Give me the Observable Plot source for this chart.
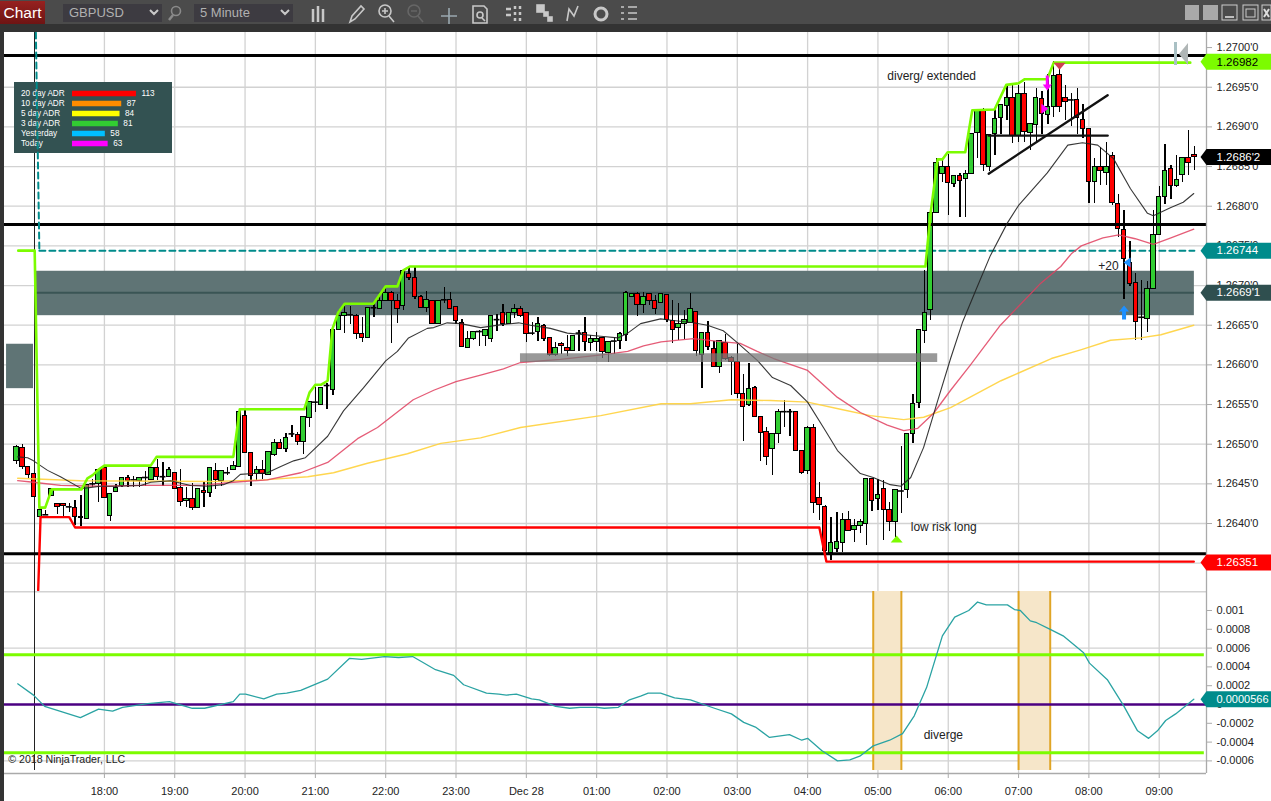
<!DOCTYPE html>
<html><head><meta charset="utf-8">
<script src="https://cdn.jsdelivr.net/npm/d3@7"></script>
<script src="https://cdn.jsdelivr.net/npm/@observablehq/plot@0.6"></script>
<style>
html,body{margin:0;padding:0;width:1271px;height:801px;overflow:hidden;background:#333;font-family:"Liberation Sans",Arial,sans-serif}
#page{position:relative;width:1271px;height:801px;background:#333}
#page>svg{position:absolute}
#bar{position:absolute;left:0;top:0;width:1271px;height:24px;background:#4b4b4b}
#chart{position:absolute;left:0;top:1px;width:45px;height:23px;background:linear-gradient(#96211f,#6e1414);color:#fff;font-size:15.5px;line-height:23px;text-align:center}
.dd{position:absolute;top:4px;height:18px;width:99px;background:#3d3b41;color:#b0b0b0;font-size:13px;line-height:18px;text-indent:6px}
</style></head><body><div id="page">
<div id="bar"><div id="chart">Chart</div><div class="dd" style="left:63px">GBPUSD</div><div class="dd" style="left:194px">5 Minute</div></div>
<svg id="icons" width="1271" height="24" style="left:0;top:0" fill="none" stroke="#c8c8c8" stroke-width="1.6">
<path d="M150 10l4 4 4-4M281 10l4 4 4-4" stroke-width="2"/>
<circle cx="176" cy="11" r="4.5" stroke="#8a8a8a"/><path d="M173 15l-4 5" stroke="#8a8a8a" stroke-width="2.5"/>
<path d="M313 9v13M318 6v16M323 9v13" stroke-width="2.5"/>
<path d="M350 22l2-6 9-10 3 3-9 10z"/>
<circle cx="385" cy="11" r="6"/><path d="M389 16l5 6M382 11h6M385 8v6"/>
<circle cx="414" cy="11" r="6" stroke="#666"/><path d="M418 16l5 6M411 11h6" stroke="#666"/>
<path d="M449 8v18M441 16h16" stroke="#9aa8b0"/>
<path d="M473 6h11l3 3v14h-14z"/><circle cx="480" cy="15" r="3"/><path d="M482 18l3 3"/>
<path d="M506 9h5M506 15h5M515 6v3M520 6v3M515 12v3M520 12v3M515 18v3M520 18v3" stroke-width="2.5"/>
<rect x="537" y="5" width="7" height="7" fill="#c8c8c8"/><rect x="544" y="12" width="4" height="4" fill="#c8c8c8"/><rect x="548" y="17" width="4" height="4" fill="#c8c8c8"/>
<path d="M567 21l2-12 5 7 4-10"/>
<circle cx="601" cy="14" r="6" stroke-width="3"/>
<path d="M621 7h3M621 13h3M621 19h3M628 7h9M628 13h9M628 19h9"/>
<rect x="1185" y="5" width="14" height="15" fill="#a9a9a9" stroke="none"/><rect x="1203" y="5" width="15" height="15" fill="#a9a9a9" stroke="none"/>
<rect x="1222" y="5" width="15" height="15" stroke="#ccc" stroke-width="1"/><path d="M1225 17h9" stroke="#ddd"/>
<rect x="1243" y="5" width="15" height="15" stroke="#ccc" stroke-width="1"/><rect x="1246" y="9" width="9" height="8" stroke="#ccc" stroke-width="1"/>
<rect x="1262" y="5" width="9" height="15" stroke="#ccc" stroke-width="1"/><path d="M1264 9l5 8M1269 9l-5 8" stroke="#ddd" stroke-width="2"/>
</svg>
<script>
// Price values are pips above 1.2600
const BASE = 1.26;
const barOpen = [47.9,49.5,47.1,46.2,40.8,41.1,43.5,42.4,42.5,42.1,42,40.8,40.6,45,45,47,40.9,44,44.7,45.7,45.5,45.4,45.8,45.5,47,45.9,45.9,46.4,44.5,42.8,43.1,42,44.1,43.9,46.6,45.4,46.4,46.7,47.1,53.5,48.9,46.2,46.8,46.1,48.7,50.2,49.4,51.3,51.1,50.3,53.3,55.3,55,57.4,56.8,64.4,66.1,66.3,66.2,63.9,63.4,67.2,67.1,68,69,68,67.4,71.4,70.9,68.6,67.2,68,65.2,68.2,68.2,67.3,65.3,62.1,63.2,64.2,63.7,63.2,65.7,66.5,65.2,66.5,67,66.6,64,64.2,64.9,63.4,61.3,62.6,62.1,61.7,64,64,62.8,62.9,63.4,61.5,63,63,63.8,68.5,68.9,67.6,68.9,68,67.8,68.8,65.5,64.6,65.1,65.3,66.7,61.3,64,62,59.7,62.7,60.9,60.3,56.3,55,57.1,53.4,51.5,49.4,51.3,54.1,54.1,54.1,49.2,46.6,52.1,43.2,42.1,36.3,36.8,37.6,40.4,39.2,39.7,39.9,45.6,43.1,44.3,41.7,40.2,44.1,44.2,51.3,55.2,64.3,66.9,79.1,84,84.9,82.8,83.8,83.4,84,89.2,92.1,85,89.1,91.1,92.6,93.7,88.9,94.2,89.2,90.3,93.5,91.5,92.5,96.6,93.7,93.4,93.4,90.9,89.7,83,84.9,84.2,86.3,80.3,77,72.9,70.3,66,65.8,69.6,76.4,81.2,84.7,82.5,83.9,86.1,86.5];
const barHigh = [49.8,49.9,47.1,46.2,41.7,41.7,44.3,42.5,42.5,42.5,42.9,43.5,44.9,45.6,46.8,47,43.7,44.9,45.7,46.1,45.9,45.7,46.6,47,48.1,47.7,47,46.4,46.8,44.5,45,44.3,45.2,47,47.6,46.6,47.1,47.8,54.1,54.2,48.9,47.2,48,49,50.6,50.6,51.3,52.4,51.5,53.4,55.3,57.1,57.1,57.6,64.4,66.8,67.4,67.4,66.4,66,67.2,67.6,68.9,69.7,69.3,68.9,71.8,72.4,72.3,68.7,69.3,68,68,69.7,69.1,67.3,65.7,64.2,64.2,64.3,64.4,66.2,66.4,67.6,66.6,67.6,67.3,66.6,65.3,66,65.1,63.4,62.8,62.8,63.7,63.7,64.3,66,63.7,64.1,63.5,62.9,63.4,64.1,69.3,68.9,69.1,69.1,68.9,68.7,68.9,68.8,68.1,67.7,66.8,69,66.7,64,65.5,63,63,63.8,61.1,62.6,58.8,60.2,57.3,53.4,52.1,51.3,54.4,55.5,54.4,54.1,49.2,52.2,52.5,45.2,42.3,40.8,41.4,41.2,41.5,40.5,40.5,45.6,45.6,45.5,45.4,42.6,44.2,49.7,51.3,56.3,64.4,71.9,79.1,86,85.9,86.5,83.9,84.1,84.5,89.1,92.1,92.3,89.1,92.3,92.8,95.2,95.2,95.2,95.6,90.4,94.9,94.4,96.6,98.2,97.7,95.2,94.2,94.8,92.8,89.7,86,87.4,88,86.8,81.5,79.5,75.5,71.5,70.6,70.5,79.5,82.5,87.8,85.1,86.4,86.1,89.6,87.5];
const barLow = [47.5,46.8,45.7,43.4,40.8,41.1,43.5,41.1,40.8,41.4,39.7,39.6,40.6,44.5,42.6,43.2,40.3,44,44.6,44.6,44.6,44.6,44.7,45.5,45.4,44.7,45.9,44.3,42.1,42,41.6,42,42,43.3,44.3,44.7,46,46.7,47.1,48.9,44.7,45.4,45.6,46.1,48.5,49.4,48.9,50.9,49.8,48.7,52.1,54,55,54.4,56.1,64.3,64,65.1,63.2,62.8,63.4,66,67,68,62.7,65.2,66.8,70.6,68.3,67.1,66.6,65.1,65.2,67.7,67,65.1,62.2,62.1,63.1,62.3,62.3,62.8,64.2,64.9,65.1,65.8,66,62.8,63.7,63,63,61.1,61.1,61.3,61,61.7,61.7,61.7,61.7,61.7,60.8,60.3,61.3,62,63,68.5,66.1,66.5,67.5,66.4,67.8,65.3,62.7,63.1,63.2,65.3,61.1,57,61.8,59.7,58.9,60.5,56.1,55.8,50.4,54.8,53.4,47.8,47.3,46,50.1,52.1,51,49.2,46.2,46.2,41.3,40.4,36,35.4,36.3,36.3,39,37.6,38.7,37.2,41.5,41.6,37.8,39,38.3,41.2,43.1,50.1,54.5,62.7,65.6,79.1,83,78.8,82.4,78.6,78.6,84,86,84.4,84.4,86.4,89.1,90.8,87.9,88,88,87,87.9,89.1,90.3,91.2,91.8,90.8,90.1,89.1,88.6,80.3,80.3,82.6,82.6,80.1,76.1,68.3,69.9,63.1,63.1,64.1,69.6,76.4,80.2,80.9,82.3,83,83.9,84.5];
const barClose = [49.6,47.1,46.1,43.4,41.7,41.1,44.3,42.1,42.2,42.1,40.8,40.7,44.9,45,46.8,43.2,43.7,44.5,45.7,45.4,45.5,45.7,45.8,47,45.9,45.9,46.7,44.3,42.7,43.1,42,44.3,43.8,47,45.5,46.6,46.4,47.2,54.1,48.9,46,46.8,46.2,49,50.2,49.4,50.8,51.3,50.3,53.4,55.3,55.3,57.1,57.4,64.4,66.2,66.5,66.3,63.9,63.4,67.2,67.2,68,69,68.1,67.1,71.8,71,68.5,67.2,68.2,65.1,68,68.2,67.1,65.5,62.3,63.2,64.1,64.2,64.4,66.2,65.7,65.2,66.6,67,66.1,63.9,64,65.1,63.2,61.3,62.1,62.4,61.7,63.7,64,62.9,63.2,63.2,61.6,62.9,63,63.9,69,68.9,67.6,68.6,68.1,67.1,68.9,65.6,64.4,65.1,65.7,67,61.8,64,62.3,59.7,63,60.8,60.3,56.3,54.7,56.9,53.4,51.4,48.4,51.3,54.1,54.1,54.1,49.2,46.4,52.1,42.6,42.3,36.5,37.5,37.7,40.5,39.1,39.7,40.2,45.6,42.9,43.6,41.7,40.2,44.2,44.1,51.3,55.1,64.4,66.6,79.1,85.5,84.9,82.9,83.8,83.2,84,89.1,92.1,85.2,89,91,92.8,93.7,88.9,94.2,89.3,90.4,93.7,91.6,92.5,96.4,92.5,93.2,93.4,91.1,89.7,83,85,84.4,85,80.4,77.1,73.4,70.2,65.4,66,69.6,76.4,81.1,84.4,82.5,83.3,86.1,85.5,86.2];

const smaBar = [0.2,1.9,2.9,5.3,7.5,11.1,14.3,16.6,21.2,22.9,26.3,29.7,32.6,35.3,37,38.2,40.4,42.8,45.1,47.3,49.3,51.4,53.1,55.8,59.2,63,65,66.9,70.1,71.2,73.5,75.8,79.2,83.1,85.7,87.7,91.1,94,99.7,102.6,104.3,106.5,109.9,112.1,115.5,117.9,120.6,123,126.5,129,132.1,135,137.7,140.1,144,146.2,149.1,150.9,152.6,154.8,157.2,159.4,161.4,163.7,166.2,169.1,171,175.9,179.4,181.9,184.5,187.2,190.1,193,194,196.9,199.1,200.9];
const smaPips = [48.4,48.3,47.9,46.7,45.9,44.4,44.7,44.7,44.8,45.2,45.4,44.8,44.7,44.9,45.4,46.2,46.3,46.4,47.2,47.9,48.3,49.8,51,54.2,57.1,60.5,61.7,63.4,64.6,64.7,65.3,65.2,64.7,65.1,65.3,65,64.6,64,63.6,63.4,64,65.2,65.8,65.6,65.3,65,64.3,62.8,60.5,58.4,57.4,55.3,52.1,49.2,46.3,45.8,44.9,44.7,45.8,49.6,55.5,60.8,65.3,69.4,73.8,77.9,80.1,84.2,87.7,88,87.7,86,82.2,79.1,78.8,79.8,80.5,81.6];
const emaBar = [0.2,2.9,7.5,14.3,21.2,31.4,37,42.8,48.5,53.1,58.2,61.6,67.7,71.2,75,79.2,83.1,86,92.8,100.2,104.3,107,110,115.5,120.6,123.5,126.4,129.2,135,140.1,144,148.6,151.4,153.8,156.5,159.4,162.8,167.9,174.8,178.2,180,181.7,185.4,188.1,190.9,194,197,200.9];
const emaPips = [45.4,45.2,44.8,44.7,44.8,44.8,45.2,45.5,46.4,47.7,50.7,52.1,55.6,56.8,57.9,58.7,59.5,60.3,60.7,61.3,61.7,62.4,62.9,63.3,62.9,62.7,61.7,60.8,59.3,55.9,54,52.4,51.7,52,53.9,56.8,60,65,70.3,72.4,74,75,76,76.4,75.9,75.2,76,77.1];
const slowBar = [0.2,10.9,33.6,42.2,49.7,54.1,59.9,66.7,72.4,79.2,86,99.7,110,115,122,128.7,135,140.6,145.7,151.4,154.8,159.4,168,176.6,181.6,186.7,191.8,195.3,200.9];
const slowPips = [45.7,45.4,45.3,45.5,45.9,46.4,47.6,48.8,50.1,50.8,52.1,53.6,55.1,55.1,55.6,55.5,55.3,54.4,53.6,53.1,53.4,54.6,58,60.8,61.9,63.1,63.4,63.8,65];
const highBar = [0.3,3.1,3.9,4.9,6,11.1,12.1,13,14,15,22.9,23.9,37,38.1,49.1,50,51,52,53.1,53.9,54.9,56,60.9,63,65,66,67.1,155.1,156,157.2,158,158.9,161.9,163.1,166.9,168.9,171,172,175.9,177,200.3];
const highPips = [74.4,74.4,42,42,44.3,44.3,45.7,46.1,46.8,47.3,47.3,48.4,48.4,54.4,54.4,56.5,57.5,57.5,58,64.5,66.6,67.7,67.7,69.9,69.9,71.9,72.4,72.4,79.2,85.9,85.9,86.8,86.8,92.1,92.2,95.3,95.5,96,96,98.1,98.1];
const lowBar = [3.7,4.1,9,10,137,138.2,200.9];
const lowPips = [31.6,40.8,40.8,39.5,39.5,35.2,35.2];
const levelPips = [99,77.7,36.2];
const trendBar = [165.9,186.2];
const trendPips = [84.1,94];
const flatPips = [88.9,88.9];
const dashBar = [3.3,3.9,201];
const dashPips = [101.9,74.4,74.4];

const hourBars = [15,27,39,51,63,75,87,99,111,123,135,147,159,171,183,195];
const hourLabels = ["18:00","19:00","20:00","21:00","22:00","23:00","Dec 28","01:00","02:00","03:00","04:00","05:00","06:00","07:00","08:00","09:00"];
const priceTicks = [40,45,50,55,60,65,70,75,80,85,90,95,100];
const priceGrid = [35,40,45,50,55,60,65,70,75,80,85,90,95];
const priceLabels = ["1.2640'0","1.2645'0","1.2650'0","1.2655'0","1.2660'0","1.2665'0","1.2670'0","1.2675'0","1.2680'0","1.2685'0","1.2690'0","1.2695'0","1.2700'0"];
const tagPips = [98.2,86.2,74.4,69.1,35.1];
const tagLabels = ["1.26982","1.2686'2","1.26744","1.2669'1","1.26351"];
const tagFill = ["#7cfc00","#000000","#008b8b","#2f4f4f","#ff0000"];
const tagInk = ["#000","#fff","#fff","#fff","#fff"];

const oscBar = [0.2,2.9,4.8,10.9,14,16.4,18.1,22.4,26.1,30,32.1,37,38.1,39.1,42.2,44.4,46.1,48.5,53.1,56.8,58.9,62.8,65.2,67.6,69.3,71.5,74.6,76.3,80.2,82.3,83.6,85.3,87.9,89.2,92,94.4,96.2,99,100.3,102.7,104.6,106.5,107.8,109.9,112.3,115,119.1,122,124.1,126.1,128.5,131.9,134,135,137.4,140.1,142.2,143.9,146.2,149,151.2,153.2,155.3,158,160.1,162.5,164,165.5,169.1,170.3,171.3,173,174.1,176.4,178.6,182.1,183.1,186.2,188.9,191.3,193.2,194.7,196.1,197.8,200.9];
const oscVals = [2.2,1,-0.2,-1.4,-0.5,-0.7,-0.3,0.1,0.3,-0.4,-0.4,0.3,1.1,1.1,0.6,1.1,1.2,1.5,2.7,4.9,4.8,5.1,5,5.1,4.5,3.7,3.1,2.1,1.2,1.1,1,1.1,0.6,0.5,-0.2,-0.4,-0.3,-0.3,-0.4,-0.3,0.5,0.9,1.2,1.2,0.7,0.5,-0.4,-1,-1.9,-2.4,-3.5,-3.2,-3.8,-3.6,-4.9,-6,-5.9,-5.5,-4.4,-3.8,-3.1,-1.2,1.8,7.3,9.3,10,10.9,10.6,10.6,10.1,10,8.9,8.7,8,7.3,5.5,4.4,2.6,-0.1,-2.8,-3.6,-2.8,-1.7,-1,0.566];
const oscTicks = [0.001,0.0008,0.0006,0.0004,0.0002,0,-0.0002,-0.0004,-0.0006];
const oscGrid = [0.0006,-0.0006];
const oscBands = [0.000528,-0.000514];
const divergeFrom = [146.2,171];
const divergeTo = [151,176.4];

const adrNames = ["20 day ADR","10 day ADR","5 day ADR","3 day ADR","Yesterday","Today"];
const adrValues = [113,87,84,81,58,63];
const adrColors = ["#ff0000","#ff8c00","#ffff00","#32cd32","#00bfff","#ff00ff"];

const price = p => BASE + p / 1e4;
const zip = (xs, ys, f = price) => xs.map((x, k) => ({x, y: f(ys[k])}));
const xDomain = [-2.05, 203.07];
const yDomain = [price(31.43), price(101.9)];
const bars = barOpen.map((o, i) => ({i, o: price(o), h: price(barHigh[i]), l: price(barLow[i]), c: price(barClose[i])}));
const bodies = bars.filter(d => d.o !== d.c), dojis = bars.filter(d => d.o === d.c);
const font = '"Liberation Sans",Arial,sans-serif';
const sym = pts => ({draw(c){pts.forEach((p, k) => k ? c.lineTo(p[0], p[1]) : c.moveTo(p[0], p[1])); c.closePath();}});
const tagShape = sym([[-6,0],[0,-8],[65,-8],[65,8],[0,8]]);
const triUp = sym([[0,-4],[6,3],[-6,3]]);
const triDown = sym([[-6,-3],[6,-3],[0,4]]);
const triRight = sym([[-3,-5],[4,0],[-3,5]]);
const triLeft = sym([[3,-5],[-4,0],[3,5]]);
const arrowDown = sym([[-1.5,-7],[1.5,-7],[1.5,2],[4.5,2],[0,8],[-4.5,2],[-1.5,2]]);
const arrowUp = sym([[-2,7],[2,7],[2,-1],[5,-1],[0,-7],[-5,-1],[-2,-1]]);
const note = (x, p, text) => Plot.text([text], {x: () => x, y: () => price(p), text: d => d, textAnchor: "start", fontSize: 12, fill: "#222"});
const mark1 = (x, p, symbol, fill) => Plot.dot([0], {x: () => x, y: () => price(p), symbol, r: 5, fill, stroke: "none"});
const panel = (height, topPx, extra = {}) => ({
  width: 1267, height, marginLeft: 0, marginRight: 65, marginTop: 0, marginBottom: 0,
  x: {domain: xDomain, axis: null}, 
  style: {position: "absolute", left: "4px", top: topPx + "px", background: "#fff", fontFamily: font, fontSize: "11px", color: "#222"},
  ...extra
});

const priceChart = Plot.plot(panel(559, 32, {
  y: {domain: yDomain, axis: null},
  marks: [
    Plot.ruleY(priceGrid.map(price), {stroke: "#d2d2d2", strokeWidth: 1.3}),
    Plot.ruleX(hourBars, {stroke: "#d2d2d2", strokeWidth: 1.3}),
    Plot.ruleX([3.07], {stroke: "#222", strokeWidth: 1}),
    Plot.rect([0], {x1: () => 3.4, x2: () => 201, y1: () => price(66.2), y2: () => price(71.8), fill: "#5f7475"}),
    Plot.rect([0], {x1: () => -1.7, x2: () => 2.9, y1: () => price(57), y2: () => price(62.6), fill: "#5f7475"}),
    Plot.ruleY([price(69.1)], {x1: () => 3.4, x2: () => 201, stroke: "#3a5555", strokeWidth: 2}),
    Plot.line(zip(dashBar.slice(1), dashPips.slice(1)), {x: "x", y: "y", stroke: "#008b8b", strokeWidth: 2, strokeDasharray: "6,4"}),
    Plot.ruleX(bars, {x: "i", y1: "l", y2: "h", stroke: "#000", strokeWidth: 1.3, shapeRendering: "crispEdges"}),
    Plot.rect(bodies, {x1: d => d.i - 0.38, x2: d => d.i + 0.38, y1: "o", y2: "c", fill: d => d.c > d.o ? "#32cd32" : "#ff0000", stroke: "#000", strokeWidth: 1, shapeRendering: "crispEdges"}),
    Plot.ruleY(dojis, {x1: d => d.i - 0.5, x2: d => d.i + 0.5, y: "c", stroke: "#000", strokeWidth: 1.6}),
    Plot.ruleY(levelPips.map(price), {stroke: "#000", strokeWidth: 3}),
    Plot.line(zip(slowBar, slowPips), {x: "x", y: "y", stroke: "#ffd23c", strokeWidth: 1.4, strokeOpacity: .9}),
    Plot.line(zip(emaBar, emaPips), {x: "x", y: "y", stroke: "#e0405f", strokeWidth: 1.3, strokeOpacity: .85}),
    Plot.line(zip(smaBar, smaPips), {x: "x", y: "y", stroke: "#222", strokeWidth: 1.1, strokeOpacity: .9}),
    Plot.line(zip(highBar, highPips), {x: "x", y: "y", stroke: "#7cfc00", strokeWidth: 2.6}),
    Plot.line(zip(lowBar, lowPips), {x: "x", y: "y", stroke: "#ff0000", strokeWidth: 2.4}),
    Plot.line(zip(trendBar, trendPips), {x: "x", y: "y", stroke: "#111", strokeWidth: 2.4}),
    Plot.line(zip(trendBar, flatPips), {x: "x", y: "y", stroke: "#111", strokeWidth: 2.4}),
    Plot.rect([0], {x1: () => 86, x2: () => 157.2, y1: () => price(60.3), y2: () => price(61.4), fill: "#777", fillOpacity: .75}),
    note(148.6, 96.4, "diverg/ extended"),
    note(152.6, 39.5, "low risk long"),
    note(184.6, 72.5, "+20"),
    mark1(150.2, 38, triUp, "#7cfc00"),
    mark1(178, 97.7, triDown, "#cf4050"),
    mark1(175.9, 95.6, arrowDown, "#ff00ff"),
    mark1(175.4, 92.3, triRight, "#ff00ff"),
    mark1(189, 66.6, arrowUp, "#1e90ff"),
    mark1(189.6, 72.9, triLeft, "#1e90ff"),
    Plot.axisY({anchor: "right", ticks: priceTicks.map(price), tickFormat: d => priceLabels[priceTicks.findIndex(t => Math.abs(price(t) - d) < 1e-7)], tickSize: 5, tickPadding: 5, stroke: "#aaa", fill: "#222", fontSize: 11, label: null}),
    Plot.ruleX([xDomain[1]], {stroke: "#aaa", strokeWidth: 1.3}),
    Plot.dot(tagPips, {x: () => xDomain[1], y: d => price(d), symbol: tagShape, r: 5, fill: (d, k) => tagFill[k], stroke: "none"}),
    Plot.text(tagPips, {x: () => xDomain[1], y: d => price(d), text: (d, k) => tagLabels[k], dx: 10, textAnchor: "start", fontSize: 11.5, fill: (d, k) => tagInk[k]})
  ]
}));
document.getElementById("page").appendChild(priceChart);

const legend = Plot.plot({
  width: 158, height: 71, marginLeft: 58, marginRight: 0, marginTop: 0, marginBottom: 0,
  x: {domain: [0, 176.7], axis: null},
  y: {type: "point", domain: adrNames, range: [8.7, 63.2], padding: 0, axis: null},
  style: {position: "absolute", left: "14px", top: "82px", background: "#335252", fontFamily: font},
  marks: [
    Plot.ruleY(adrNames, {y: d => d, x1: () => 0, x2: (d, k) => adrValues[k], stroke: (d, k) => adrColors[k], strokeWidth: 5.5}),
    Plot.text(adrNames, {x: () => 0, y: d => d, dx: -51.5, text: d => d, textAnchor: "start", fill: "#fff", fontSize: 8.2}),
    Plot.text(adrNames, {x: (d, k) => adrValues[k], y: d => d, dx: 5, text: (d, k) => String(adrValues[k]), textAnchor: "start", fill: "#fff", fontSize: 8.2})
  ]
});
document.getElementById("page").appendChild(legend);

const overlay = Plot.plot(panel(559, 32, {
  y: {domain: yDomain, axis: null},
  style: {position: "absolute", left: "4px", top: "32px", background: "transparent", fontFamily: font},
  marks: [
    Plot.line(zip(dashBar.slice(0, 2), dashPips.slice(0, 2)), {x: "x", y: "y", stroke: "#008b8b", strokeWidth: 2, strokeDasharray: "6,4"})
  ]
}));
document.getElementById("page").appendChild(overlay);

const osc = v => v / 1e4;
const lower = Plot.plot(panel(210, 591, {
  marginBottom: 28,
  y: {domain: [-0.000734, 0.001202], axis: null},
  marks: [
    Plot.ruleY([0.001202], {stroke: "#d2d2d2", strokeWidth: 2}),
    Plot.ruleY(oscGrid, {stroke: "#d2d2d2", strokeWidth: 1.3}),
    Plot.ruleX(hourBars, {stroke: "#d2d2d2", strokeWidth: 1.3}),
    Plot.ruleX([3.07], {y1: () => -0.000702, y2: () => 0.001202, stroke: "#222", strokeWidth: 1}),
    Plot.rect(divergeFrom, {x1: d => d, x2: (d, k) => divergeTo[k], y1: () => -0.000702, y2: () => 0.001202, fill: "#f6e6c9"}),
    Plot.ruleX([...divergeFrom, ...divergeTo], {y1: () => -0.000702, y2: () => 0.001202, stroke: "#e0a526", strokeWidth: 2}),
    Plot.ruleY(oscBands, {x1: () => xDomain[0], x2: () => 202.7, stroke: "#7cfc00", strokeWidth: 3}),
    Plot.ruleY([0], {stroke: "#4b0082", strokeWidth: 2.4}),
    Plot.line(zip(oscBar, oscVals, osc), {x: "x", y: "y", stroke: "#2aa3a3", strokeWidth: 1.3}),
    Plot.text(["diverge"], {x: () => 154.8, y: () => -0.00033, text: d => d, textAnchor: "start", fontSize: 12, fill: "#222"}),
    Plot.text(["\u00a9 2018 NinjaTrader, LLC"], {x: () => -1.4, y: () => -0.000585, text: d => d, textAnchor: "start", fontSize: 10.6, fill: "#222"}),
    Plot.ruleY([-0.000734], {stroke: "#aaa", strokeWidth: 1.3}),
    Plot.ruleX([xDomain[1]], {stroke: "#aaa", strokeWidth: 1.3}),
    Plot.axisX({anchor: "bottom", ticks: hourBars, tickFormat: d => hourLabels[hourBars.indexOf(d)], tickSize: 5, tickPadding: 9, stroke: "#aaa", fill: "#222", fontSize: 11, label: null}),
    Plot.axisY({anchor: "right", ticks: oscTicks, tickFormat: d => String(d), tickSize: 5, tickPadding: 5, stroke: "#aaa", fill: "#222", fontSize: 11, label: null}),
    Plot.dot([0.0000566], {x: () => xDomain[1], y: d => d, symbol: tagShape, r: 5, fill: "#008b8b", stroke: "none"}),
    Plot.text(["0.0000566"], {x: () => xDomain[1], y: () => 0.0000566, text: d => d, dx: 10, textAnchor: "start", fontSize: 11, fill: "#fff"})
  ]
}));
document.getElementById("page").appendChild(lower);
</script>
<svg width="20" height="30" style="left:1173px;top:40px"><rect x="1" y="2" width="3" height="23" fill="#a9c0c4"/><path d="M15 3L6 14l9 11z" fill="#b0b6b6"/></svg>
</div></body></html>
